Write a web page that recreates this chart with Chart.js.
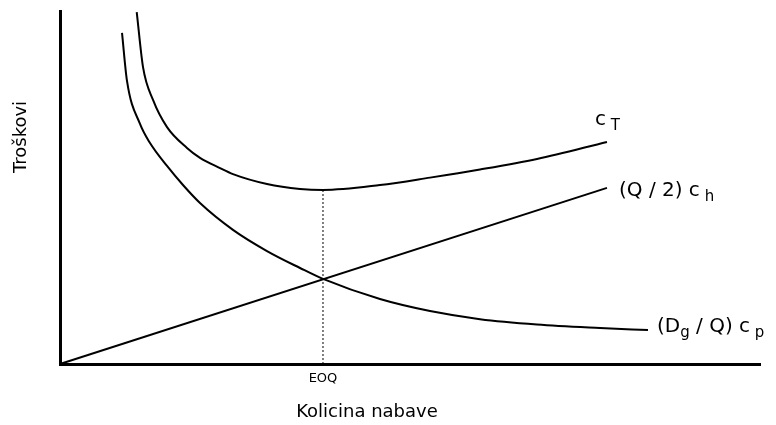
<!DOCTYPE html>
<html>
<head>
<meta charset="utf-8">
<script src="https://cdn.jsdelivr.net/npm/chart.js@4/dist/chart.umd.min.js"></script>
<style>
  html, body { margin: 0; padding: 0; background: #fff; }
  #wrap { width: 776px; height: 425px; }
</style>
</head>
<body>
<div id="wrap"><canvas id="eoqChart"></canvas></div>
<script>
// values (x: 0..100 = order quantity, y: 0..100 = cost)
const totalX = [10.96, 11.86, 13.29, 15.29, 18.14, 20.0, 22.86, 24.71, 29.57, 34.29, 37.57, 45.71, 52.86, 60.0, 68.14, 78.14];
const totalY = [99.7, 84.1, 74.8, 67.1, 61.2, 58.4, 55.5, 53.8, 51.0, 49.6, 49.3, 50.7, 52.8, 55.1, 58.1, 62.9];

const orderX = [8.86, 9.57, 11.43, 12.86, 15.29, 17.57, 20.0, 24.71, 29.57, 34.29, 37.57, 45.71, 52.86, 60.0, 68.14, 77.14, 84.0];
const orderY = [93.8, 80.2, 68.0, 62.6, 56.1, 50.7, 45.6, 38.0, 32.0, 27.2, 24.1, 18.4, 15.0, 12.7, 11.2, 10.2, 9.6];

const holdX = [0, 78.14];
const holdY = [0, 49.9];

const eoqX = [37.57, 37.57];
const eoqY = [0, 49.3];

const xTitle = 'Kolicina nabave';
const yTitle = 'Troškovi';
const eoqLabel = 'EOQ';

const FONT = '"DejaVu Sans", sans-serif';

function toPoints(xs, ys) {
    return xs.map((x, i) => ({ x: x, y: ys[i] }));
}

// draws a label made of normal and subscript parts
function drawParts(ctx, parts, x, y) {
    ctx.textAlign = 'left';
    ctx.textBaseline = 'alphabetic';
    parts.forEach(p => {
        ctx.font = (p.sub ? 15 : 20) + 'px ' + FONT;
        ctx.fillText(p.text, x, y + (p.sub ? 5 : 0));
        x += ctx.measureText(p.text).width;
    });
}

const labelPlugin = {
    id: 'labels',
    afterDraw(chart) {
        const ctx = chart.ctx;
        const xs = chart.scales.x, ys = chart.scales.y;
        const area = chart.chartArea;
        ctx.save();
        ctx.fillStyle = '#000';

        // curve labels, anchored to the last point of each curve
        const tEnd = [xs.getPixelForValue(totalX[totalX.length - 1]), ys.getPixelForValue(totalY[totalY.length - 1])];
        drawParts(ctx, [{ text: 'c' }, { text: ' T', sub: true }], tEnd[0] - 12, tEnd[1] - 17);

        const hEnd = [xs.getPixelForValue(holdX[holdX.length - 1]), ys.getPixelForValue(holdY[holdY.length - 1])];
        drawParts(ctx, [{ text: '(Q / 2) c' }, { text: ' h', sub: true }], hEnd[0] + 12, hEnd[1] + 8);

        const oEnd = [xs.getPixelForValue(orderX[orderX.length - 1]), ys.getPixelForValue(orderY[orderY.length - 1])];
        drawParts(ctx, [{ text: '(D' }, { text: 'g', sub: true }, { text: ' / Q) c' }, { text: ' p', sub: true }], oEnd[0] + 9, oEnd[1] + 2);

        // EOQ tick label
        ctx.font = '13px ' + FONT;
        ctx.textAlign = 'center';
        ctx.textBaseline = 'middle';
        ctx.fillText(eoqLabel, xs.getPixelForValue(eoqX[0]), area.bottom + 15);

        // axis titles
        ctx.font = '18px ' + FONT;
        ctx.fillText(xTitle, 367, 412);
        ctx.translate(21, 137);
        ctx.rotate(-Math.PI / 2);
        ctx.fillText(yTitle, 0, 0);
        ctx.restore();
    }
};

const curve = {
    showLine: true,
    borderColor: '#000',
    borderWidth: 2,
    pointRadius: 0,
    fill: false,
    cubicInterpolationMode: 'monotone',
    clip: false
};

new Chart(document.getElementById('eoqChart'), {
    type: 'scatter',
    data: {
        datasets: [
            Object.assign({ label: 'cT', data: toPoints(totalX, totalY) }, curve),
            Object.assign({ label: 'Dg/Q cp', data: toPoints(orderX, orderY) }, curve),
            Object.assign({ label: 'Q/2 ch', data: toPoints(holdX, holdY) }, curve, { cubicInterpolationMode: 'default', tension: 0 }),
            {
                label: 'EOQ',
                data: toPoints(eoqX, eoqY),
                showLine: true,
                borderColor: '#000',
                borderWidth: 1,
                borderDash: [2, 2],
                pointRadius: 0,
                tension: 0
            }
        ]
    },
    options: {
        responsive: true,
        maintainAspectRatio: false,
        animation: false,
        layout: { padding: { left: 60, top: 11, right: 16, bottom: 61 } },
        plugins: {
            legend: { display: false },
            tooltip: { enabled: false }
        },
        scales: {
            x: {
                type: 'linear',
                min: 0,
                max: 100,
                ticks: { display: false },
                grid: { display: false, drawTicks: false },
                border: { display: true, width: 3, color: '#000' }
            },
            y: {
                type: 'linear',
                min: 0,
                max: 100,
                ticks: { display: false },
                grid: { display: false, drawTicks: false },
                border: { display: true, width: 3, color: '#000' }
            }
        }
    },
    plugins: [labelPlugin]
});
</script>
</body>
</html>
